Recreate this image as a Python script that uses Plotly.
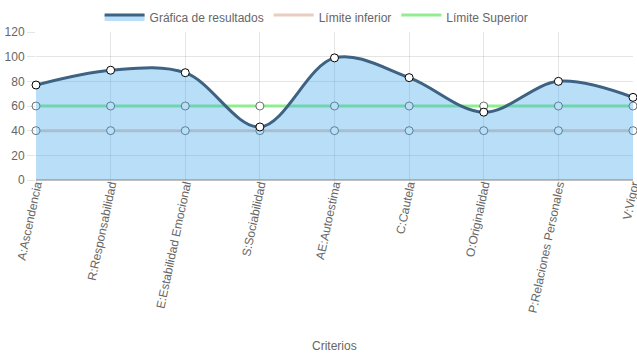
import plotly.graph_objects as go

categorias = ["A:Ascendencia", "R:Responsabilidad", "E:Estabilidad Emocional",
              "S:Sociabilidad", "AE:Autoestima", "C:Cautela", "O:Originalidad",
              "P:Relaciones Personales", "V:Vigor"]
resultados = [77, 89, 87, 43, 99, 83, 55, 80, 67]
limite_inferior = [40, 40, 40, 40, 40, 40, 40, 40, 40]
limite_superior = [60, 60, 60, 60, 60, 60, 60, 60, 60]
y_ticks = [0, 20, 40, 60, 80, 100, 120]

FONT = "Liberation Sans, Arial, Helvetica, sans-serif"
x_idx = list(range(len(categorias)))

C_MAIN_LINE = "rgb(62,98,130)"
C_MAIN_FILL = "rgba(54,162,235,0.35)"
C_INF = "rgb(232,205,192)"
C_SUP = "rgb(144,238,144)"

fig = go.Figure()

# data traces (drawn bottom to top)
fig.add_trace(go.Scatter(
    x=x_idx, y=limite_superior, name="Límite Superior", mode="lines+markers",
    showlegend=False, cliponaxis=False,
    line=dict(color=C_SUP, width=3),
    marker=dict(size=8, color="white", line=dict(color="rgba(0,0,0,0.55)", width=1)),
))
fig.add_trace(go.Scatter(
    x=x_idx, y=limite_inferior, name="Límite inferior", mode="lines+markers",
    showlegend=False, cliponaxis=False,
    line=dict(color=C_INF, width=3),
    marker=dict(size=8, color="white", line=dict(color="rgba(0,0,0,0.55)", width=1)),
))
fig.add_trace(go.Scatter(
    x=x_idx, y=resultados, name="Gráfica de resultados", mode="lines+markers",
    showlegend=False, cliponaxis=False,
    line=dict(color=C_MAIN_LINE, width=3, shape="spline", smoothing=1.0),
    fill="tozeroy", fillcolor=C_MAIN_FILL,
    marker=dict(size=8, color="white", line=dict(color="black", width=1)),
))

# legend-only entries (box style)
for nm, fc, lc in [("Gráfica de resultados", C_MAIN_FILL, C_MAIN_LINE),
                   ("Límite inferior", "rgba(255,255,255,0)", C_INF),
                   ("Límite Superior", "rgba(255,255,255,0)", C_SUP)]:
    fig.add_trace(go.Scatter(
        x=[None], y=[None], name=nm, mode="lines", fill="toself",
        fillcolor=fc, line=dict(color=lc, width=3), showlegend=True,
    ))

fig.update_layout(
    width=637, height=359,
    margin=dict(l=36, r=4, t=32, b=179, autoexpand=False),
    paper_bgcolor="white", plot_bgcolor="white",
    font=dict(family=FONT, size=12, color="#666"),
    showlegend=True,
    legend=dict(orientation="h", x=0.47, xanchor="center",
                y=1.2, yanchor="top", traceorder="normal", itemwidth=40,
                font=dict(family=FONT, size=12, color="#666")),
    xaxis=dict(
        range=[0, 8], tickmode="array", tickvals=x_idx, ticktext=categorias,
        tickangle=-78, showgrid=True, gridcolor="rgba(0,0,0,0.1)",
        ticks="outside", ticklen=6, tickcolor="rgba(0,0,0,0.1)",
        ticklabelstandoff=-14, ticklabeloverflow="allow",
        zeroline=False, showline=False, automargin=False,
    ),
    yaxis=dict(
        range=[0, 120], tickmode="array", tickvals=y_ticks,
        showgrid=True, gridcolor="rgba(0,0,0,0.1)",
        ticks="outside", ticklen=8, tickcolor="rgba(0,0,0,0.1)",
        zeroline=True, zerolinecolor="rgba(0,0,0,0.25)", zerolinewidth=2,
        showline=False, automargin=False,
    ),
    annotations=[dict(text="Criterios", xref="paper", yref="paper",
                      x=0.5, y=-1.12, xanchor="center", yanchor="middle",
                      showarrow=False, font=dict(family=FONT, size=12, color="#666"))],
)

fig.write_html("out.html", config={"displayModeBar": False},
               post_script="document.body.style.margin='0';document.body.style.overflow='hidden';")
